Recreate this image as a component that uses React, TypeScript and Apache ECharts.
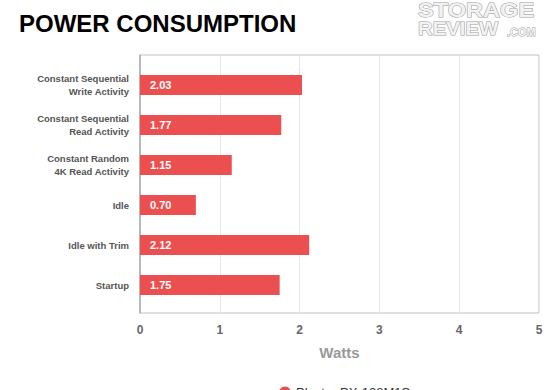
import React, { useEffect, useRef } from "react";
import * as echarts from "echarts";

const categories = [
  "Constant Sequential\nWrite Activity",
  "Constant Sequential\nRead Activity",
  "Constant Random\n4K Read Activity",
  "Idle",
  "Idle with Trim",
  "Startup",
];
const values = [2.03, 1.77, 1.15, 0.7, 2.12, 1.75];
const seriesName = "Plextor PX-128M1S";
const xTicks = [0, 1, 2, 3, 4, 5];

export default function App() {
  const ref = useRef<HTMLDivElement>(null);
  useEffect(() => {
    if (!ref.current) return;
    const chart = echarts.init(ref.current, null, { renderer: "svg" });
    const font = "Liberation Sans, Arial, Helvetica, sans-serif";
    chart.setOption({
      animation: false,
      textStyle: { fontFamily: font },
      graphic: [
        {
          type: "text",
          left: 19,
          top: 11,
          style: {
            text: "POWER CONSUMPTION",
            font: `bold 24px ${font}`,
            fill: "#000",
          },
        },
        {
          type: "text",
          x: 418,
          y: 0,
          scaleX: 1.18,
          style: {
            text: "STORAGE",
            font: `bold 20px ${font}`,
            fill: "#f2f2f2",
            stroke: "#9a9a9a",
            lineWidth: 1,
          },
        },
        {
          type: "text",
          x: 418,
          y: 20,
          scaleX: 1.13,
          style: {
            text: "REVIEW",
            font: `bold 18px ${font}`,
            fill: "#f2f2f2",
            stroke: "#9a9a9a",
            lineWidth: 1,
          },
        },
        {
          type: "text",
          x: 507,
          y: 26,
          style: {
            text: ".COM",
            font: `bold 11px ${font}`,
            fill: "#f2f2f2",
            stroke: "#9a9a9a",
            lineWidth: 0.8,
          },
        },
      ],
      legend: {
        data: [{ name: seriesName, icon: "circle" }],
        left: 274,
        top: 381,
        itemWidth: 12,
        itemHeight: 12,
        textStyle: { fontSize: 13, color: "#333", fontFamily: font },
      },
      grid: [
        { left: 140, top: 65, width: 399, height: 240, containLabel: false },
        {
          left: 140,
          top: 55,
          width: 399,
          height: 258,
          show: true,
          borderColor: "#c0c0c0",
          borderWidth: 1,
        },
      ],
      xAxis: [
        {
          gridIndex: 0,
          type: "value",
          min: 0,
          max: 5,
          interval: 1,
          show: false,
        },
        {
          gridIndex: 1,
          type: "value",
          min: xTicks[0],
          max: xTicks[xTicks.length - 1],
          interval: 1,
          axisLine: { show: false },
          axisTick: { show: false },
          splitLine: { show: true, lineStyle: { color: "#e6e6e6" } },
          axisLabel: {
            color: "#666",
            fontWeight: "bold",
            fontSize: 12,
            margin: 11,
            fontFamily: font,
          },
          name: "Watts",
          nameLocation: "middle",
          nameGap: 32,
          nameTextStyle: {
            color: "#999",
            fontWeight: "bold",
            fontSize: 15,
            fontFamily: font,
          },
        },
      ],
      yAxis: [
        {
          gridIndex: 0,
          type: "category",
          data: categories,
          inverse: true,
          axisLine: { show: false },
          axisTick: { show: false },
          axisLabel: {
            color: "#555",
            fontWeight: "bold",
            fontSize: 9.5,
            lineHeight: 13,
            margin: 11,
            fontFamily: font,
          },
        },
        {
          gridIndex: 1,
          type: "value",
          min: 0,
          max: 1,
          axisLine: { show: true, lineStyle: { color: "#aaa", width: 1.5 } },
          axisTick: { show: false },
          axisLabel: { show: false },
          splitLine: { show: false },
        },
      ],
      series: [
        {
          name: seriesName,
          type: "bar",
          xAxisIndex: 0,
          yAxisIndex: 0,
          data: values,
          barWidth: 20,
          itemStyle: { color: "#ec4f4f" },
          label: {
            show: true,
            position: "insideLeft",
            offset: [5, 0],
            color: "#fff",
            fontWeight: "bold",
            fontSize: 11,
            fontFamily: font,
            formatter: (p: any) => p.value.toFixed(2),
          },
          z: 3,
        },
      ],
    });
    return () => chart.dispose();
  }, []);
  return (
    <div
      ref={ref}
      style={{ position: "absolute", left: 0, top: 0, width: 560, height: 390 }}
    />
  );
}
